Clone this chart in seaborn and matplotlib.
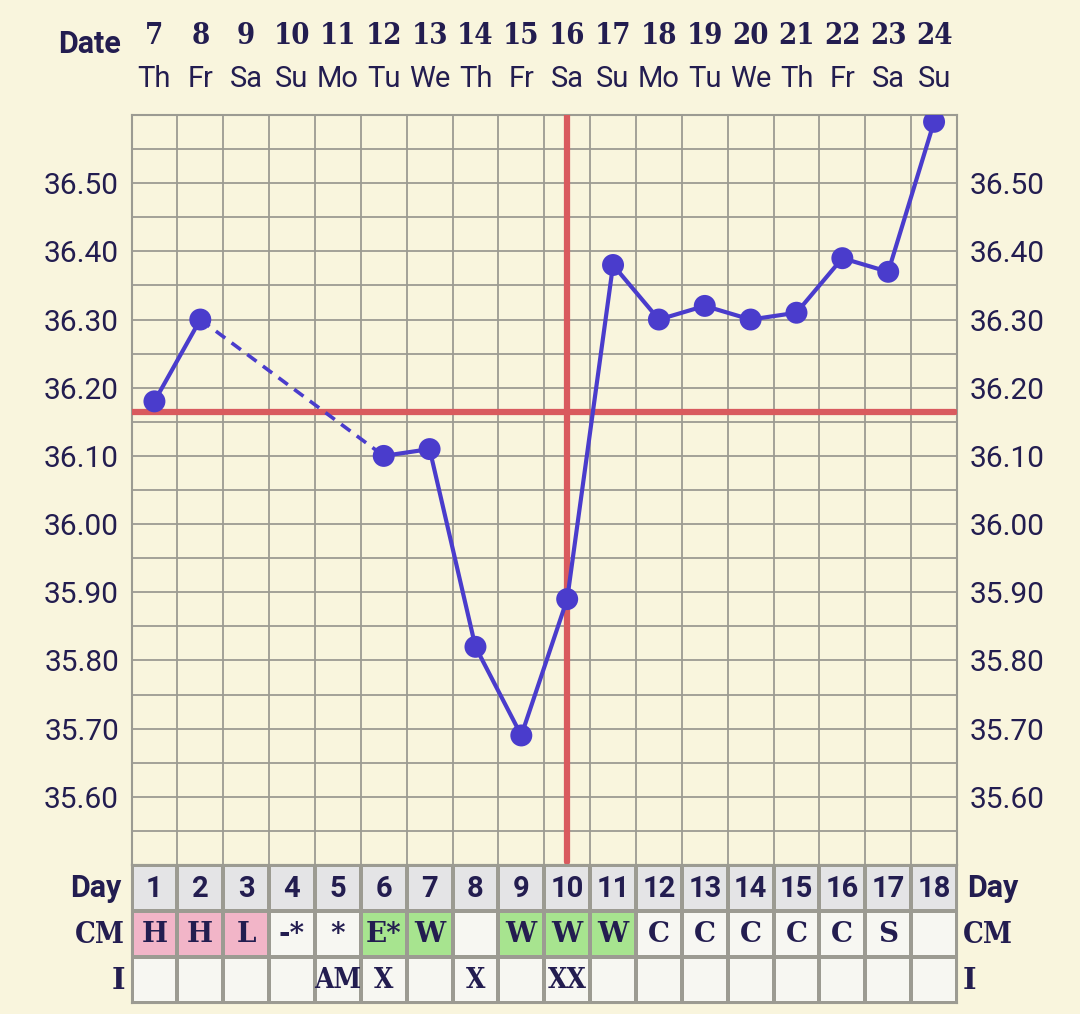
import numpy as np
import pandas as pd
import matplotlib
matplotlib.use('Agg')
import matplotlib.pyplot as plt
import matplotlib.transforms as mtransforms
from matplotlib.colors import ListedColormap
import seaborn as sns

# 차트 데이터
cycle_days = list(range(1, 19))
dates = [7, 8, 9, 10, 11, 12, 13, 14, 15, 16, 17, 18, 19, 20, 21, 22, 23, 24]
weekdays = ['Th', 'Fr', 'Sa', 'Su', 'Mo', 'Tu', 'We', 'Th', 'Fr',
            'Sa', 'Su', 'Mo', 'Tu', 'We', 'Th', 'Fr', 'Sa', 'Su']
temps = [36.18, 36.30, np.nan, np.nan, np.nan, 36.10, 36.11, 35.82, 35.69,
         35.89, 36.38, 36.30, 36.32, 36.30, 36.31, 36.39, 36.37, 36.59]
cm_codes = ['H', 'H', 'L', '-*', '*', 'E*', 'W', '', 'W', 'W', 'W',
            'C', 'C', 'C', 'C', 'C', 'S', '']
cm_kind = ['pink', 'pink', 'pink', 'none', 'none', 'green', 'green', 'none', 'green',
           'green', 'green', 'none', 'none', 'none', 'none', 'none', 'none', 'none']
intercourse = ['', '', '', '', 'AM', 'X', '', 'X', '', 'XX', '', '', '', '', '', '', '', '']
coverline = 36.165
ovulation_day = 10
ytick_labels = ['35.60', '35.70', '35.80', '35.90', '36.00', '36.10', '36.20', '36.30', '36.40', '36.50']

# 스타일
BG = '#f9f5dd'
GRID = '#9c9b92'
TXT = '#231d50'
LINE = '#4a3ccc'
RED = '#d95a5e'
SANS = ['Roboto', 'DejaVu Sans']
SLAB = ['DejaVu Serif']

sns.set_style("white")
plt.rcParams['font.family'] = SANS

W, H = 1080, 1014
fig = plt.figure(figsize=(W / 100, H / 100), dpi=100, facecolor=BG)

# 메인 온도 차트
x0, x1 = 131.5, 957
y0, y1 = 115, 865
ax = fig.add_axes([x0 / W, 1 - y1 / H, (x1 - x0) / W, (y1 - y0) / H])
ax.set_facecolor(BG)
ax.set_xlim(0.5, 18.5)
ax.set_ylim(35.50, 36.60)

grid_y = np.round(np.arange(35.50, 36.601, 0.05), 2)
ax.set_yticks(grid_y)
labels = [f'{v:.2f}' if f'{v:.2f}' in ytick_labels else '' for v in grid_y]
ax.set_yticklabels(labels)
ax.set_xticks(np.arange(0.5, 18.6, 1.0))
ax.set_xticklabels([])
ax.grid(True, color=GRID, linewidth=1.3)
ax.tick_params(axis='y', length=0, labelsize=21.5, labelcolor=TXT, pad=9,
               labelleft=True, labelright=True)
ax.tick_params(axis='x', length=0)
for sp in ax.spines.values():
    sp.set_color(GRID)
    sp.set_linewidth(1.5)
ax.set_axisbelow(True)

df = pd.DataFrame({'day': cycle_days, 'temp': temps})
valid = df.dropna().reset_index(drop=True)

# 연속 구간은 실선, 빠진 날은 점선으로 연결
seg_id = (valid['day'].diff() != 1).cumsum()
for _, seg in valid.groupby(seg_id):
    if len(seg) > 1:
        sns.lineplot(data=seg, x='day', y='temp', ax=ax, color=LINE,
                     linewidth=3, zorder=4, estimator=None, sort=False)
for i in range(1, len(valid)):
    if valid.loc[i, 'day'] - valid.loc[i - 1, 'day'] > 1:
        gap = valid.loc[i - 1:i]
        ax.plot(gap['day'], gap['temp'], color=LINE, linewidth=2.6,
                linestyle=(0, (3.2, 2.2)), zorder=4)
sns.scatterplot(data=valid, x='day', y='temp', ax=ax, color=LINE, s=250,
                edgecolor='none', zorder=5)
ax.set_xlabel('')
ax.set_ylabel('')

ax.axhline(coverline, xmin=0, xmax=0.997, color=RED, linewidth=4.5, zorder=3)
ax.axvline(ovulation_day, ymin=0.004, ymax=1, color=RED, linewidth=4.5, zorder=3)

# 상단 날짜 헤더
trans_top = mtransforms.blended_transform_factory(ax.transData, fig.transFigure)
for d, dt, wd in zip(cycle_days, dates, weekdays):
    fig.text(d, 1 - 35 / H, str(dt), transform=trans_top, ha='center', va='center',
             fontsize=21, fontweight='bold', family=SLAB, fontstretch='condensed', color=TXT)
    fig.text(d, 1 - 79 / H, wd, transform=trans_top, ha='center', va='center',
             fontsize=21, color=TXT)
fig.text(121 / W, 1 - 44 / H, 'Date', ha='right', va='center', fontsize=22,
         fontweight='bold', color=TXT)

# 하단 표 (Day / CM / I)
t0, t1 = 865, 1003
tax = fig.add_axes([x0 / W, 1 - t1 / H, (x1 - x0) / W, (t1 - t0) / H])
color_idx = {'grey': 0, 'pink': 1, 'green': 2, 'none': 3}
grid_codes = np.array([
    [0] * 18,
    [color_idx[k] for k in cm_kind],
    [3] * 18,
])
cmap = ListedColormap(['#e4e4e6', '#f2b5c8', '#a7e48f', '#f7f7f2'])
sns.heatmap(grid_codes, ax=tax, cmap=cmap, vmin=-0.5, vmax=3.5, cbar=False,
            linewidths=1.5, linecolor=GRID, xticklabels=False, yticklabels=False)
for sp in tax.spines.values():
    sp.set_visible(True)
    sp.set_color(GRID)
    sp.set_linewidth(1.5)

for i in range(18):
    tax.text(i + 0.5, 0.52, str(cycle_days[i]), ha='center', va='center',
             fontsize=21, fontweight='bold', color=TXT)
    if cm_codes[i]:
        tax.text(i + 0.5, 1.52, cm_codes[i], ha='center', va='center',
                 fontsize=20, fontweight='bold', family=SLAB, color=TXT)
    if intercourse[i]:
        tax.text(i + 0.5, 2.52, intercourse[i], ha='center', va='center',
                 fontsize=20, fontweight='bold', family=SLAB, fontstretch='condensed',
                 color=TXT)

trans_l = mtransforms.blended_transform_factory(fig.transFigure, tax.transData)
fig.text(122 / W, 0.5, 'Day', transform=trans_l, ha='right', va='center',
         fontsize=22, fontweight='bold', color=TXT)
fig.text(125 / W, 1.52, 'CM', transform=trans_l, ha='right', va='center',
         fontsize=21, fontweight='bold', family=SLAB, fontstretch='condensed', color=TXT)
fig.text(125 / W, 2.52, 'I', transform=trans_l, ha='right', va='center',
         fontsize=21, fontweight='bold', family=SLAB, color=TXT)
fig.text(967 / W, 0.5, 'Day', transform=trans_l, ha='left', va='center',
         fontsize=22, fontweight='bold', color=TXT)
fig.text(963 / W, 1.52, 'CM', transform=trans_l, ha='left', va='center',
         fontsize=21, fontweight='bold', family=SLAB, fontstretch='condensed', color=TXT)
fig.text(963 / W, 2.52, 'I', transform=trans_l, ha='left', va='center',
         fontsize=21, fontweight='bold', family=SLAB, color=TXT)

fig.savefig('out.png', dpi=100, facecolor=BG)
